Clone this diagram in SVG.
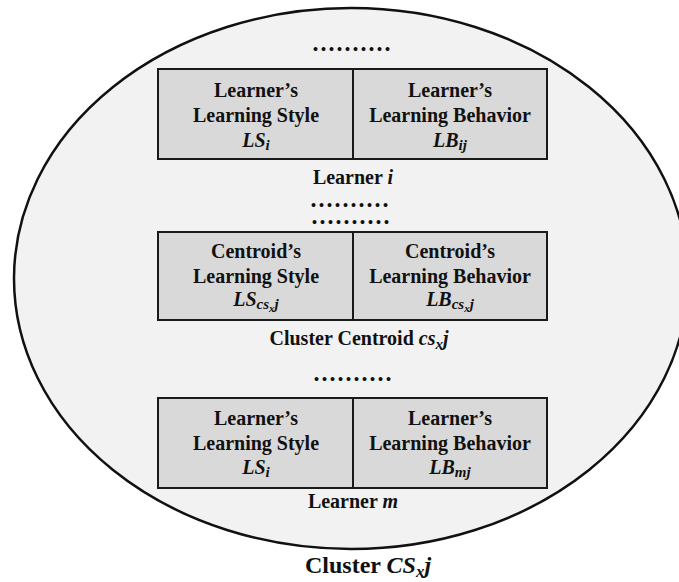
<svg xmlns="http://www.w3.org/2000/svg" width="679" height="582" viewBox="0 0 679 582">
<style>
.t{font-family:"Liberation Serif","Times New Roman",serif;font-weight:bold;font-size:20px;fill:#111;text-anchor:middle}
.m{font-style:italic}
.s{font-size:15px}
.ss{font-size:11px}
.dots{font-family:"Liberation Serif",serif;font-weight:bold;font-size:12px;fill:#111;stroke:#111;stroke-width:2px;letter-spacing:5px}
.box{fill:#d9d9d9;stroke:#1a1a1a;stroke-width:2}
.div{stroke:#1a1a1a;stroke-width:2}
.big{font-size:24px}
</style>
<g id="cluster">
<ellipse cx="351" cy="278.5" rx="337" ry="270.5" fill="#f2f2f2" stroke="#111" stroke-width="2.5"/>
<text class="t big" x="368" y="573">Cluster <tspan class="m">CS</tspan><tspan class="m" font-size="17" dy="4">x</tspan><tspan class="m" dy="-4">j</tspan></text>
</g>
<g id="dots">
<text class="dots" x="314" y="50">..........</text>
<text class="dots" x="312" y="206">..........</text>
<text class="dots" x="313" y="223">..........</text>
<text class="dots" x="315" y="380">..........</text>
</g>
<g id="learner-i">
<rect class="box" x="158" y="69" width="389" height="90"/>
<line class="div" x1="353" y1="69" x2="353" y2="159"/>
<text class="t" x="256" y="97">Learner’s</text>
<text class="t" x="256" y="122">Learning Style</text>
<text class="t" x="256" y="147"><tspan class="m">LS</tspan><tspan class="m s" dy="3">i</tspan></text>
<text class="t" x="450" y="97">Learner’s</text>
<text class="t" x="450" y="122">Learning Behavior</text>
<text class="t" x="450" y="147"><tspan class="m">LB</tspan><tspan class="m s" dy="3">ij</tspan></text>
<text class="t" x="353" y="184">Learner <tspan class="m">i</tspan></text>
</g>
<g id="centroid">
<rect class="box" x="158" y="232" width="389" height="88"/>
<line class="div" x1="353" y1="232" x2="353" y2="320"/>
<text class="t" x="256" y="258">Centroid’s</text>
<text class="t" x="256" y="283">Learning Style</text>
<text class="t" x="256" y="306"><tspan class="m">LS</tspan><tspan class="m s" dy="3">cs</tspan><tspan class="m ss" dy="3">x</tspan><tspan class="m s" dy="-3">j</tspan></text>
<text class="t" x="450" y="258">Centroid’s</text>
<text class="t" x="450" y="283">Learning Behavior</text>
<text class="t" x="450" y="306"><tspan class="m">LB</tspan><tspan class="m s" dy="3">cs</tspan><tspan class="m ss" dy="3">x</tspan><tspan class="m s" dy="-3">j</tspan></text>
<text class="t" x="359" y="345">Cluster Centroid <tspan class="m">cs</tspan><tspan class="m s" dy="4">x</tspan><tspan class="m" dy="-4">j</tspan></text>
</g>
<g id="learner-m">
<rect class="box" x="158" y="398" width="389" height="90"/>
<line class="div" x1="353" y1="398" x2="353" y2="488"/>
<text class="t" x="256" y="425">Learner’s</text>
<text class="t" x="256" y="450">Learning Style</text>
<text class="t" x="256" y="474"><tspan class="m">LS</tspan><tspan class="m s" dy="3">i</tspan></text>
<text class="t" x="450" y="425">Learner’s</text>
<text class="t" x="450" y="450">Learning Behavior</text>
<text class="t" x="450" y="474"><tspan class="m">LB</tspan><tspan class="m s" dy="3">mj</tspan></text>
<text class="t" x="353" y="508">Learner <tspan class="m">m</tspan></text>
</g>
<g id="connectors"></g>
</svg>
